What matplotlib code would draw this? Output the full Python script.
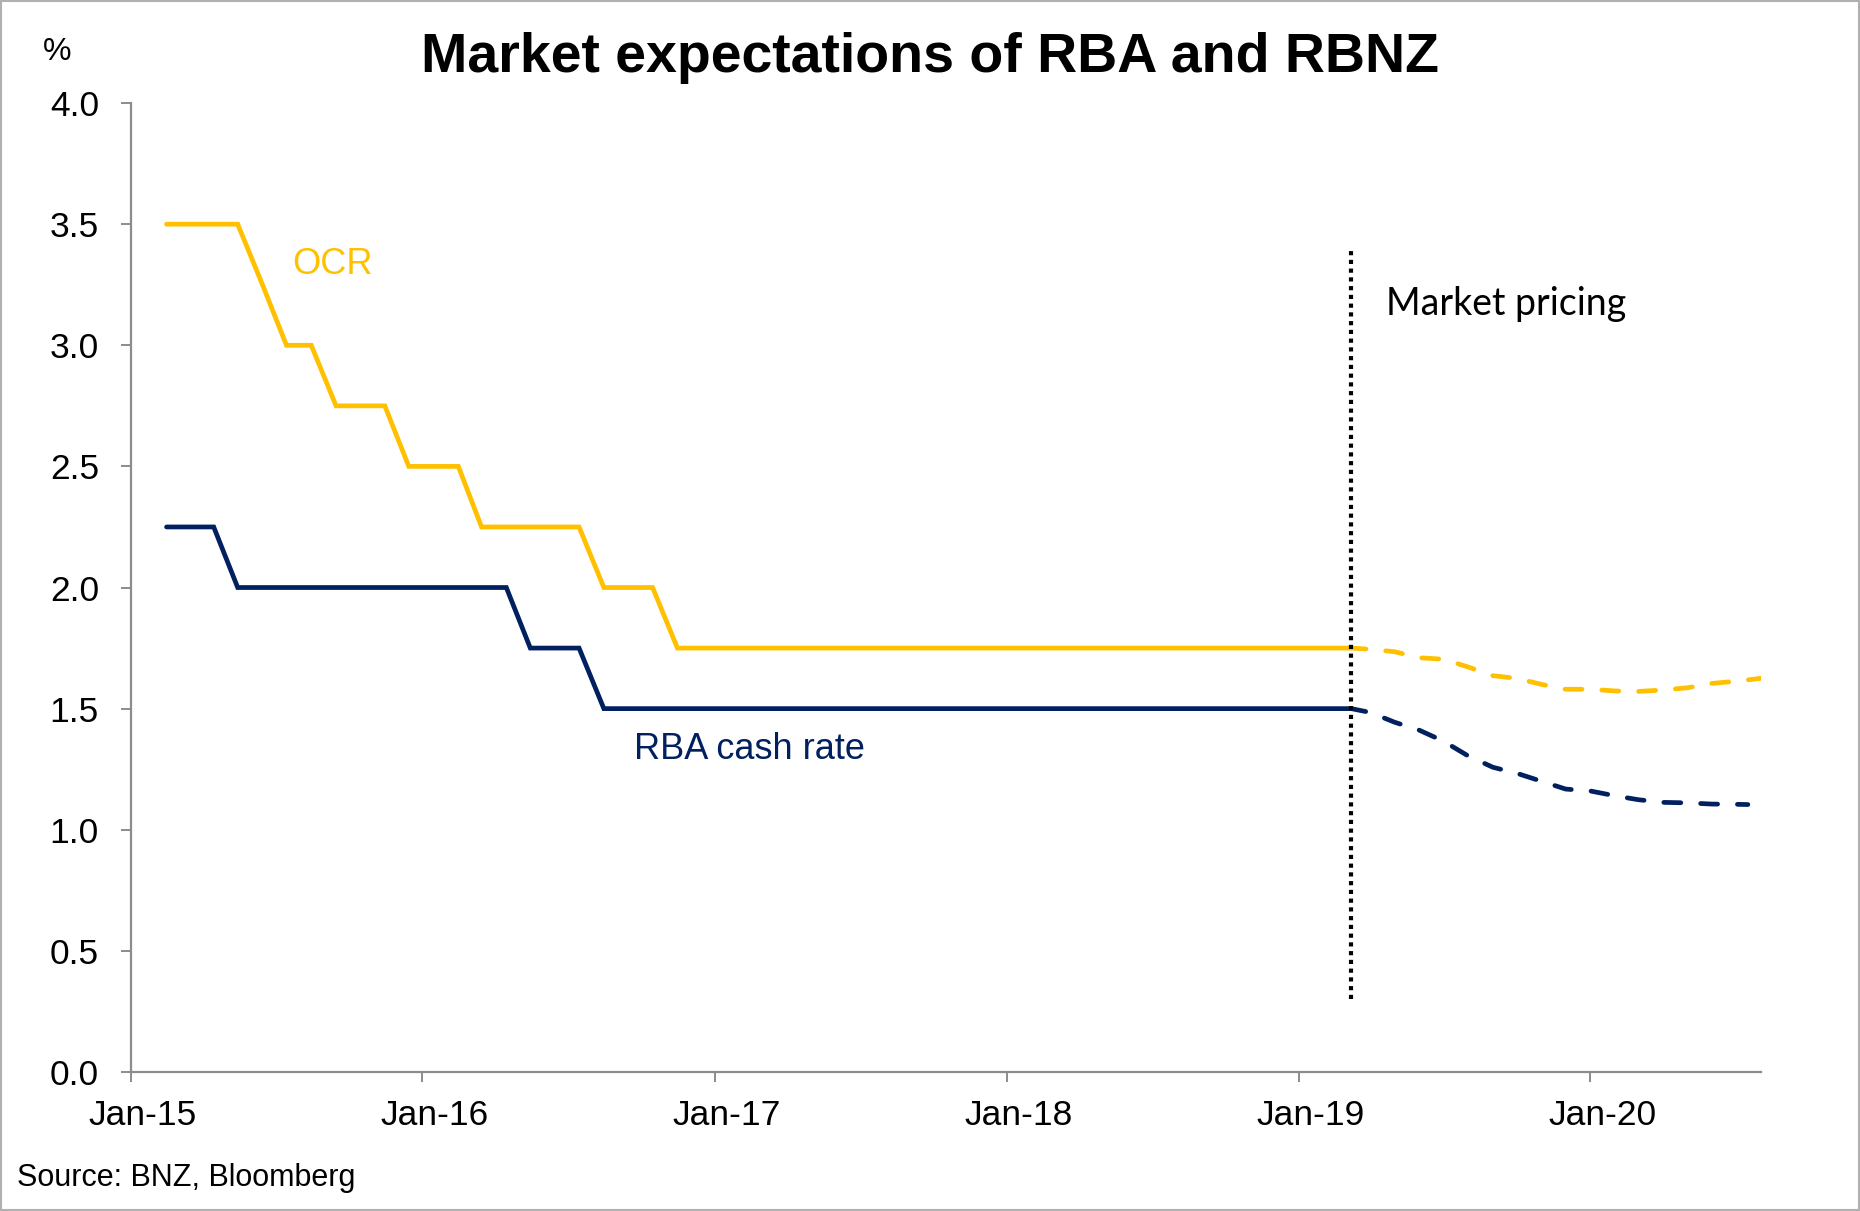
import matplotlib
matplotlib.use("Agg")
import matplotlib.pyplot as plt
import matplotlib.transforms as mtransforms
import pandas as pd
from matplotlib.patches import Rectangle

# ---------------- data ----------------
hist_dates = list(pd.date_range("2015-02-01", "2019-02-01", freq="MS") + pd.Timedelta(days=14)) + [pd.Timestamp("2019-03-08")]

ocr_hist = [3.50, 3.50, 3.50, 3.50, 3.25, 3.00, 3.00, 2.75, 2.75, 2.75, 2.50,
            2.50, 2.50, 2.25, 2.25, 2.25, 2.25, 2.25, 2.00, 2.00, 2.00, 1.75, 1.75,
            1.75, 1.75, 1.75, 1.75, 1.75, 1.75, 1.75, 1.75, 1.75, 1.75, 1.75, 1.75,
            1.75, 1.75, 1.75, 1.75, 1.75, 1.75, 1.75, 1.75, 1.75, 1.75, 1.75, 1.75,
            1.75, 1.75, 1.75]

rba_hist = [2.25, 2.25, 2.25, 2.00, 2.00, 2.00, 2.00, 2.00, 2.00, 2.00, 2.00,
            2.00, 2.00, 2.00, 2.00, 1.75, 1.75, 1.75, 1.50, 1.50, 1.50, 1.50, 1.50,
            1.50, 1.50, 1.50, 1.50, 1.50, 1.50, 1.50, 1.50, 1.50, 1.50, 1.50, 1.50,
            1.50, 1.50, 1.50, 1.50, 1.50, 1.50, 1.50, 1.50, 1.50, 1.50, 1.50, 1.50,
            1.50, 1.50, 1.50]

ocr_fc_dates = ["2019-03-08", "2019-04-01", "2019-05-01", "2019-06-01", "2019-07-01",
                "2019-08-01", "2019-09-01", "2019-10-01", "2019-11-01", "2019-12-01",
                "2020-01-01", "2020-02-01", "2020-03-01", "2020-04-01", "2020-05-01",
                "2020-06-01", "2020-07-01", "2020-08-01"]
ocr_fc = [1.750, 1.745, 1.735, 1.710, 1.704, 1.672, 1.636, 1.625, 1.600, 1.580,
          1.580, 1.573, 1.571, 1.577, 1.586, 1.604, 1.613, 1.625]

rba_fc_dates = ["2019-03-08", "2019-04-01", "2019-05-01", "2019-06-01", "2019-07-01",
                "2019-08-01", "2019-09-01", "2019-10-01", "2019-11-01", "2019-12-01",
                "2020-01-01", "2020-02-01", "2020-03-01", "2020-04-01", "2020-05-01",
                "2020-06-01", "2020-07-01", "2020-07-16"]
rba_fc = [1.500, 1.484, 1.444, 1.411, 1.366, 1.305, 1.258, 1.233, 1.200, 1.168,
          1.160, 1.140, 1.124, 1.113, 1.111, 1.106, 1.105, 1.104]

tick_dates = ["2015-01-01", "2016-01-01", "2017-01-01", "2018-01-01", "2019-01-01", "2020-01-01"]
tick_labels = ["Jan-15", "Jan-16", "Jan-17", "Jan-18", "Jan-19", "Jan-20"]
y_ticks = [0.0, 0.5, 1.0, 1.5, 2.0, 2.5, 3.0, 3.5, 4.0]

pricing_date = "2019-03-08"
pricing_span = (0.30, 3.39)

# ---------------- styling ----------------
GOLD = "#FFC000"
NAVY = "#002060"
AXC = "#8c8c8c"
plt.rcParams["font.family"] = ["Liberation Sans", "DejaVu Sans"]

fig = plt.figure(figsize=(18.6, 12.11), dpi=100)
ax = fig.add_axes([0.0702, 0.1148, 0.8764, 0.8001])

lw = 3.4
ax.plot(hist_dates, ocr_hist, color=GOLD, lw=lw, solid_capstyle="round", solid_joinstyle="miter")
ax.plot(hist_dates, rba_hist, color=NAVY, lw=lw, solid_capstyle="round", solid_joinstyle="miter")
ax.plot(pd.to_datetime(ocr_fc_dates), ocr_fc, color=GOLD, lw=lw, linestyle=(0.5, (3.6, 4.2)), dash_capstyle="round")
ax.plot(pd.to_datetime(rba_fc_dates), rba_fc, color=NAVY, lw=lw, linestyle=(0.5, (3.6, 4.2)), dash_capstyle="round")

pdx = pd.Timestamp(pricing_date)
ax.plot([pdx, pdx], list(pricing_span), color="black", lw=3.0, linestyle=(0, (1, 1.1)))

ax.set_xlim(pd.Timestamp("2015-01-01"), pd.Timestamp("2020-08-01"))
ax.set_ylim(0, 4)
ax.set_yticks(y_ticks)
ax.set_yticklabels([f"{v:.1f}" for v in y_ticks])
ax.set_xticks(pd.to_datetime(tick_dates))
ax.set_xticklabels(tick_labels)

for s in ["top", "right"]:
    ax.spines[s].set_visible(False)
for s in ["left", "bottom"]:
    ax.spines[s].set_color(AXC)
    ax.spines[s].set_linewidth(1.6)
ax.tick_params(axis="both", colors=AXC, length=7.3, width=1.4, labelsize=25.5, labelcolor="black")
ax.tick_params(axis="x", pad=12)
ax.tick_params(axis="y", pad=15.5)

shift = mtransforms.ScaledTranslation(0.12, 0, fig.dpi_scale_trans)
for lbl in ax.get_xticklabels():
    lbl.set_transform(lbl.get_transform() + shift)

# annotations
ax.text(pd.Timestamp("2015-07-22"), 3.335, "OCR", color=GOLD, fontsize=26, ha="left", va="center")
ax.text(pd.Timestamp("2016-09-22"), 1.33, "RBA cash rate", color=NAVY, fontsize=26, ha="left", va="center")
ax.text(pd.Timestamp("2019-04-20"), 3.17, "Market pricing", color="black", fontsize=27,
        family=["Lato", "DejaVu Sans"], ha="left", va="center")

fig.text(0.5, 0.952, "Market expectations of RBA and RBNZ", ha="center", va="center",
         fontsize=40, fontweight="bold")
fig.text(0.023, 0.957, "%", ha="left", va="center", fontsize=23)
fig.text(0.009, 0.027, "Source: BNZ, Bloomberg", ha="left", va="center", fontsize=22)

fig.patches.append(Rectangle((0.0005, 0.0005), 0.999, 0.999, transform=fig.transFigure,
                             fill=False, edgecolor="#b0b0b0", lw=1.5))

fig.savefig("out.png", dpi=100)
